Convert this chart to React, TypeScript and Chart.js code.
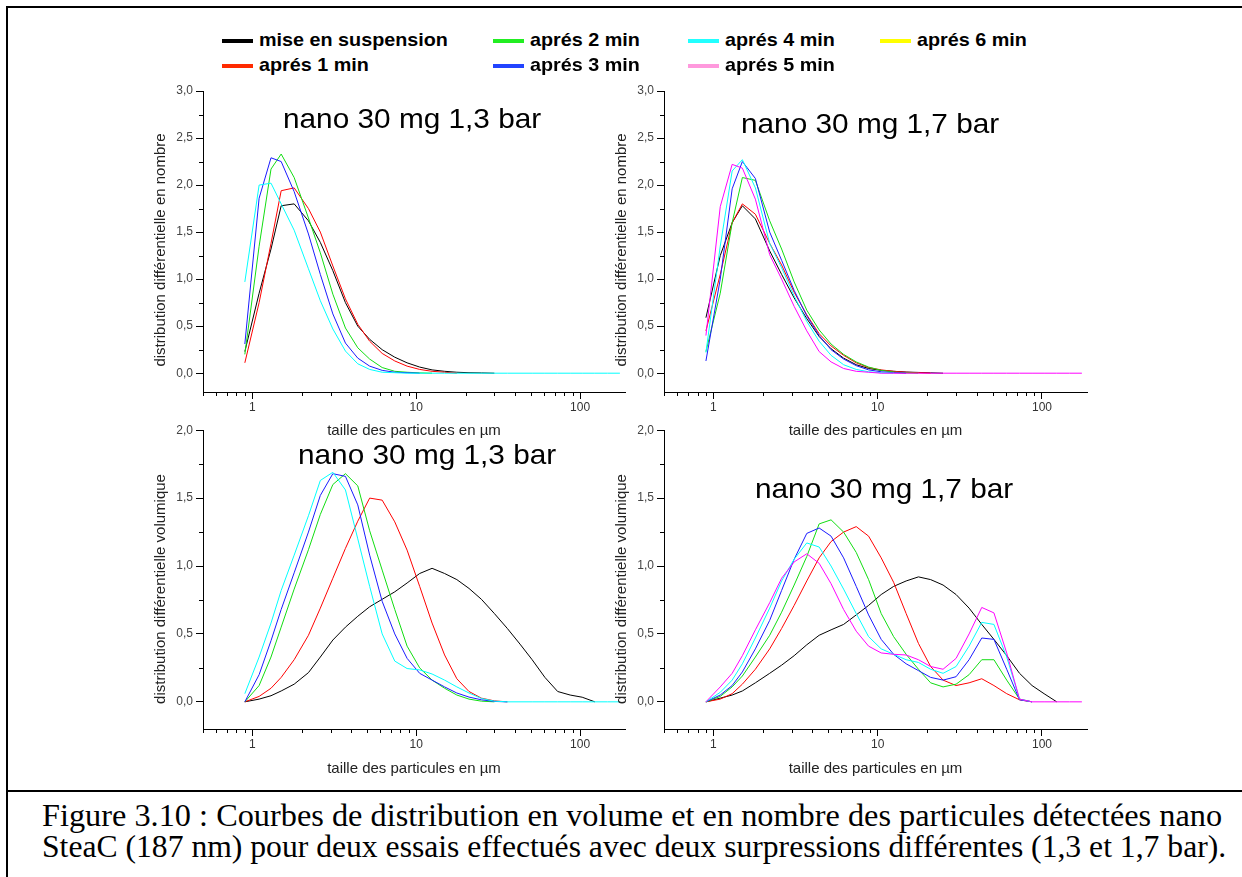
import React, { useEffect, useLayoutEffect, useRef, useState } from "react";
import { Chart, registerables } from "chart.js";

Chart.register(...registerables);

// ---------------- DATA ----------------
const SIZES_UM = [0.9, 1.1, 1.3, 1.5, 1.8, 2.2, 2.6, 3.1, 3.7, 4.4, 5.2, 6.2, 7.4, 8.8, 10.5, 12.5, 14.9, 17.7, 21, 25, 30, 36, 43, 51, 61, 73, 87, 103, 123, 147, 175];

const SERIES_LABELS = ["mise en suspension", "aprés 1 min", "aprés 2 min", "aprés 3 min", "aprés 4 min", "aprés 5 min", "aprés 6 min"];
const CURVE_COLORS = ["#000000", "#ff0000", "#11dd11", "#1a1aff", "#00ffff", "#ff00ff", "#ffff00"];
const LEGEND_COLORS = ["#000000", "#ff2a00", "#22ee22", "#2244ff", "#22ffff", "#ff99dd", "#ffff00"];

const X_TICKS = [1, 10, 100];
const X_MINOR = [0.5, 0.6, 0.7, 0.8, 0.9, 2, 3, 4, 5, 6, 7, 8, 9, 20, 30, 40, 50, 60, 70, 80, 90];
const Y_TICKS_NOMBRE = [0, 0.5, 1, 1.5, 2, 2.5, 3];
const Y_MINOR_NOMBRE = [0.25, 0.75, 1.25, 1.75, 2.25, 2.75];
const Y_TICKS_VOLUME = [0, 0.5, 1, 1.5, 2];
const Y_MINOR_VOLUME = [0.25, 0.75, 1.25, 1.75];

// number distribution, 1,3 bar
const N13_SUSPENSION = [0.23, 0.85, 1.32, 1.78, 1.8, 1.62, 1.39, 1.09, 0.75, 0.5, 0.36, 0.25, 0.17, 0.11, 0.065, 0.035, 0.02, 0.01, 0.005, 0.003, 0];
const N13_1MIN = [0.11, 0.75, 1.38, 1.94, 1.97, 1.75, 1.5, 1.14, 0.79, 0.52, 0.34, 0.21, 0.13, 0.075, 0.04, 0.02, 0.01, 0];
const N13_2MIN = [0.2, 1.35, 2.17, 2.33, 2.08, 1.65, 1.28, 0.84, 0.48, 0.27, 0.15, 0.06, 0.02, 0.01, 0.003, 0];
const N13_3MIN = [0.31, 1.86, 2.29, 2.25, 1.93, 1.48, 1.05, 0.63, 0.32, 0.16, 0.075, 0.03, 0.01, 0.005, 0];
const N13_4MIN = [0.97, 2.0, 2.02, 1.8, 1.52, 1.11, 0.77, 0.47, 0.235, 0.1, 0.04, 0.01, 0.005, 0, 0, 0, 0, 0, 0, 0, 0, 0, 0, 0, 0, 0, 0, 0, 0, 0, 0];

// number distribution, 1,7 bar
const N17_SUSPENSION = [0.59, 1.25, 1.6, 1.78, 1.64, 1.3, 1.05, 0.8, 0.58, 0.39, 0.26, 0.16, 0.09, 0.05, 0.03, 0.02, 0.012, 0.008, 0.004, 0];
const N17_1MIN = [0.45, 1.05, 1.6, 1.8, 1.69, 1.38, 1.15, 0.86, 0.62, 0.42, 0.29, 0.19, 0.11, 0.06, 0.035, 0.02, 0.01, 0.005, 0];
const N17_2MIN = [0.23, 0.85, 1.6, 2.08, 2.05, 1.62, 1.32, 0.97, 0.67, 0.46, 0.31, 0.2, 0.12, 0.065, 0.03, 0.012, 0.004, 0];
const N17_3MIN = [0.13, 1.0, 1.96, 2.25, 2.07, 1.5, 1.2, 0.88, 0.61, 0.4, 0.25, 0.15, 0.08, 0.035, 0.015, 0.005, 0];
const N17_4MIN = [0.22, 1.35, 2.15, 2.27, 1.97, 1.38, 1.12, 0.82, 0.55, 0.34, 0.19, 0.09, 0.04, 0.015, 0.005, 0];
const N17_5MIN = [0.4, 1.77, 2.22, 2.18, 1.85, 1.26, 1.0, 0.71, 0.45, 0.23, 0.12, 0.05, 0.02, 0.01, 0, 0, 0, 0, 0, 0, 0, 0, 0, 0, 0, 0, 0, 0, 0, 0, 0];

// volume distribution, 1,3 bar
const V13_SUSPENSION = [0, 0.02, 0.045, 0.08, 0.13, 0.215, 0.33, 0.455, 0.55, 0.63, 0.7, 0.755, 0.81, 0.875, 0.945, 0.983, 0.945, 0.9, 0.835, 0.755, 0.65, 0.54, 0.425, 0.31, 0.18, 0.076, 0.05, 0.034, 0];
const V13_1MIN = [0, 0.04, 0.1, 0.18, 0.31, 0.49, 0.69, 0.91, 1.13, 1.33, 1.5, 1.485, 1.325, 1.117, 0.85, 0.58, 0.345, 0.17, 0.076, 0.027, 0.007, 0];
const V13_2MIN = [0, 0.12, 0.33, 0.55, 0.83, 1.12, 1.38, 1.6, 1.68, 1.59, 1.26, 0.97, 0.68, 0.41, 0.25, 0.16, 0.1, 0.05, 0.02, 0.005, 0];
const V13_3MIN = [0, 0.2, 0.45, 0.68, 0.95, 1.25, 1.52, 1.68, 1.66, 1.45, 1.08, 0.74, 0.5, 0.32, 0.21, 0.16, 0.11, 0.065, 0.035, 0.015, 0.003, 0];
const V13_4MIN = [0.06, 0.33, 0.58, 0.82, 1.08, 1.37, 1.63, 1.69, 1.56, 1.2, 0.85, 0.5, 0.3, 0.245, 0.235, 0.205, 0.16, 0.11, 0.065, 0.025, 0.005, 0, 0, 0, 0, 0, 0, 0, 0, 0, 0];

// volume distribution, 1,7 bar
const V17_SUSPENSION = [0, 0.027, 0.05, 0.08, 0.14, 0.21, 0.27, 0.34, 0.42, 0.49, 0.53, 0.57, 0.64, 0.71, 0.79, 0.85, 0.89, 0.92, 0.9, 0.86, 0.79, 0.69, 0.57, 0.46, 0.34, 0.21, 0.12, 0.06, 0];
const V17_1MIN = [0, 0.02, 0.06, 0.13, 0.24, 0.39, 0.54, 0.71, 0.89, 1.06, 1.18, 1.25, 1.29, 1.22, 1.06, 0.88, 0.65, 0.43, 0.26, 0.16, 0.12, 0.14, 0.17, 0.12, 0.06, 0.015, 0];
const V17_2MIN = [0, 0.04, 0.11, 0.19, 0.33, 0.49, 0.66, 0.86, 1.07, 1.31, 1.34, 1.25, 1.1, 0.9, 0.65, 0.48, 0.35, 0.24, 0.14, 0.11, 0.13, 0.2, 0.31, 0.31, 0.16, 0.02, 0];
const V17_3MIN = [0, 0.05, 0.12, 0.22, 0.39, 0.6, 0.82, 1.05, 1.24, 1.28, 1.22, 1.06, 0.85, 0.64, 0.46, 0.35, 0.28, 0.23, 0.18, 0.16, 0.185, 0.31, 0.47, 0.46, 0.24, 0.015, 0];
const V17_4MIN = [0, 0.07, 0.16, 0.28, 0.47, 0.69, 0.89, 1.05, 1.17, 1.14, 1.0, 0.83, 0.65, 0.48, 0.39, 0.35, 0.31, 0.29, 0.24, 0.21, 0.26, 0.41, 0.585, 0.57, 0.33, 0.02, 0];
const V17_5MIN = [0, 0.11, 0.21, 0.34, 0.53, 0.73, 0.91, 1.03, 1.09, 1.02, 0.87, 0.68, 0.52, 0.41, 0.36, 0.35, 0.345, 0.31, 0.26, 0.24, 0.32, 0.5, 0.695, 0.655, 0.36, 0.02, 0, 0, 0, 0, 0];

const TITLE_NOMBRE = "distribution différentielle en nombre";
const TITLE_VOLUME = "distribution différentielle volumique";
const TITLE_X = "taille des particules en µm";
const CAPTION_1 = "Figure 3.10 : Courbes de distribution en volume et en nombre des particules détectées nano";
const CAPTION_2 = "SteaC (187 nm) pour deux essais effectués avec deux surpressions différentes (1,3 et 1,7 bar).";

// ---------------- LAYOUT ----------------
const FONT = "'Liberation Sans', Arial, Helvetica, sans-serif";
const SERIF = "'Liberation Serif', 'Times New Roman', Tinos, Times, serif";

type PanelDef = {
  left: number; top: number; yWidth: number; padTop: number; padRight: number; xHeight: number; xTitlePad: number;
  yMax: number; yTicks: number[]; yMinor: number[]; series: { idx: number; values: number[] }[];
  label: string; labelCx: number; labelBase: number; yTitle: string; yTitleCx: number; yTitleCy: number;
};

const PANELS: PanelDef[] = [
  {
    left: 140, top: 80, yWidth: 63, padTop: 11, padRight: 15, xHeight: 48, xTitlePad: 0,
    yMax: 3, yTicks: Y_TICKS_NOMBRE, yMinor: Y_MINOR_NOMBRE,
    series: [
      { idx: 0, values: N13_SUSPENSION }, { idx: 1, values: N13_1MIN }, { idx: 2, values: N13_2MIN },
      { idx: 3, values: N13_3MIN }, { idx: 4, values: N13_4MIN },
    ],
    label: "nano 30 mg 1,3 bar", labelCx: 412, labelBase: 128.5, yTitle: TITLE_NOMBRE, yTitleCx: 158.7, yTitleCy: 250,
  },
  {
    left: 600, top: 80, yWidth: 64, padTop: 11, padRight: 13, xHeight: 48, xTitlePad: 0,
    yMax: 3, yTicks: Y_TICKS_NOMBRE, yMinor: Y_MINOR_NOMBRE,
    series: [
      { idx: 0, values: N17_SUSPENSION }, { idx: 1, values: N17_1MIN }, { idx: 2, values: N17_2MIN },
      { idx: 3, values: N17_3MIN }, { idx: 4, values: N17_4MIN }, { idx: 5, values: N17_5MIN },
    ],
    label: "nano 30 mg 1,7 bar", labelCx: 869.5, labelBase: 133.5, yTitle: TITLE_NOMBRE, yTitleCx: 620, yTitleCy: 250,
  },
  {
    left: 140, top: 420, yWidth: 63, padTop: 10, padRight: 15, xHeight: 51, xTitlePad: 2,
    yMax: 2, yTicks: Y_TICKS_VOLUME, yMinor: Y_MINOR_VOLUME,
    series: [
      { idx: 0, values: V13_SUSPENSION }, { idx: 1, values: V13_1MIN }, { idx: 2, values: V13_2MIN },
      { idx: 3, values: V13_3MIN }, { idx: 4, values: V13_4MIN },
    ],
    label: "nano 30 mg 1,3 bar", labelCx: 426.5, labelBase: 464, yTitle: TITLE_VOLUME, yTitleCx: 158.7, yTitleCy: 589,
  },
  {
    left: 600, top: 420, yWidth: 64, padTop: 10, padRight: 13, xHeight: 51, xTitlePad: 2,
    yMax: 2, yTicks: Y_TICKS_VOLUME, yMinor: Y_MINOR_VOLUME,
    series: [
      { idx: 0, values: V17_SUSPENSION }, { idx: 1, values: V17_1MIN }, { idx: 2, values: V17_2MIN },
      { idx: 3, values: V17_3MIN }, { idx: 4, values: V17_4MIN }, { idx: 5, values: V17_5MIN },
    ],
    label: "nano 30 mg 1,7 bar", labelCx: 884, labelBase: 498.5, yTitle: TITLE_VOLUME, yTitleCx: 620, yTitleCy: 589,
  },
];

const CANVAS_W = 500;
const CANVAS_H = 360;

const minorTicksPlugin = {
  id: "minorTicks",
  afterDraw(chart: any, _args: any, opts: any) {
    const { ctx } = chart;
    const xs = chart.scales.x;
    const ys = chart.scales.y;
    ctx.save();
    ctx.strokeStyle = "#000";
    ctx.lineWidth = 1;
    ctx.beginPath();
    for (const v of opts.xMinor || []) {
      if (v < xs.min || v > xs.max) continue;
      const px = Math.round(xs.getPixelForValue(v)) + 0.5;
      ctx.moveTo(px, xs.top);
      ctx.lineTo(px, xs.top + 4);
    }
    for (const v of opts.yMinor || []) {
      const py = Math.round(ys.getPixelForValue(v)) + 0.5;
      ctx.moveTo(ys.right - 4, py);
      ctx.lineTo(ys.right, py);
    }
    ctx.stroke();
    ctx.restore();
  },
};

function PanelChart({ p }: { p: PanelDef }) {
  const ref = useRef<HTMLCanvasElement>(null);
  useEffect(() => {
    const datasets = p.series.map((s) => ({
      label: SERIES_LABELS[s.idx],
      data: s.values.map((y, i) => ({ x: SIZES_UM[i], y })),
      borderColor: CURVE_COLORS[s.idx],
      borderWidth: 1,
      pointRadius: 0,
      fill: false,
      tension: 0,
      order: -s.idx,
    }));
    const axisGrid = { display: true, drawOnChartArea: false, drawTicks: true, tickLength: 7, color: "#000", tickWidth: 1 };
    const chart = new Chart(ref.current as HTMLCanvasElement, {
      type: "line",
      data: { datasets },
      plugins: [minorTicksPlugin],
      options: {
        animation: false,
        responsive: false,
        devicePixelRatio: 1,
        events: [],
        layout: { padding: { left: 0, top: p.padTop, right: p.padRight, bottom: 0 } },
        plugins: {
          legend: { display: false },
          tooltip: { enabled: false },
          minorTicks: { xMinor: X_MINOR, yMinor: p.yMinor },
        } as any,
        scales: {
          x: {
            type: "logarithmic",
            min: 0.5,
            max: 188,
            bounds: "data",
            afterBuildTicks: (s: any) => { s.ticks = X_TICKS.map((v) => ({ value: v })); },
            afterFit: (s: any) => { s.height = p.xHeight; },
            ticks: { autoSkip: false, maxRotation: 0, padding: 1, color: "#333", font: { family: FONT, size: 12 }, callback: (v: any) => String(v) },
            grid: axisGrid,
            border: { display: true, color: "#000", width: 1 },
            title: { display: true, text: TITLE_X, color: "#222", font: { family: FONT, size: 15 }, padding: { top: 0, bottom: p.xTitlePad } },
          },
          y: {
            type: "linear",
            min: -0.2,
            max: p.yMax,
            afterBuildTicks: (s: any) => { s.ticks = p.yTicks.map((v) => ({ value: v })); },
            afterFit: (s: any) => { s.width = p.yWidth; },
            ticks: { autoSkip: false, padding: 3, color: "#444", font: { family: FONT, size: 12 }, callback: (v: any) => Number(v).toFixed(1).replace(".", ",") },
            grid: axisGrid,
            border: { display: true, color: "#000", width: 1 },
          },
        },
      } as any,
    });
    return () => chart.destroy();
  }, [p]);
  return (
    <canvas
      ref={ref}
      width={CANVAS_W}
      height={CANVAS_H}
      style={{ position: "absolute", left: p.left, top: p.top, width: CANVAS_W, height: CANVAS_H }}
    />
  );
}

function FitText({ text, width, style }: { text: string; width: number; style: React.CSSProperties }) {
  const ref = useRef<HTMLSpanElement>(null);
  const [scale, setScale] = useState(1);
  useLayoutEffect(() => {
    if (ref.current) {
      const w = ref.current.offsetWidth;
      if (w > 0) setScale(width / w);
    }
  }, [text, width]);
  return (
    <span
      ref={ref}
      style={{ ...style, display: "inline-block", whiteSpace: "nowrap", transform: `scaleX(${scale})`, transformOrigin: "left top" }}
    >
      {text}
    </span>
  );
}

const LEGEND_COL_X = [222, 493, 688, 880];
const LEGEND_ROW_Y = [40.5, 66];

export default function App() {
  return (
    <div style={{ position: "fixed", left: 0, top: 0, width: 1242, height: 877, background: "#fff", overflow: "hidden" }}>
      {/* frame */}
      <div style={{ position: "absolute", left: 6, top: 6, width: 2, height: 871, background: "#000" }} />
      <div style={{ position: "absolute", left: 6, top: 6, width: 1236, height: 2, background: "#000" }} />
      <div style={{ position: "absolute", left: 6, top: 790, width: 1236, height: 2, background: "#000" }} />

      {PANELS.map((p, i) => (
        <PanelChart key={i} p={p} />
      ))}

      {PANELS.map((p, i) => (
        <div
          key={"yt" + i}
          style={{
            position: "absolute", left: p.yTitleCx, top: p.yTitleCy, transform: "translate(-50%, -50%) rotate(-90deg)",
            whiteSpace: "nowrap", fontFamily: FONT, fontSize: 15, lineHeight: "15px", color: "#222",
          }}
        >
          {p.yTitle}
        </div>
      ))}

      {PANELS.map((p, i) => (
        <div key={"lbl" + i} style={{ position: "absolute", left: p.labelCx - 129, top: p.labelBase - 0.8465 * 28.5, width: 258 }}>
          <FitText text={p.label} width={258} style={{ fontFamily: FONT, fontSize: 28.5, lineHeight: "28.5px", color: "#000" }} />
        </div>
      ))}

      {SERIES_LABELS.map((lab, i) => {
        const col = Math.floor(i / 2);
        const row = i % 2;
        const x = LEGEND_COL_X[col];
        const y = LEGEND_ROW_Y[row];
        return (
          <React.Fragment key={"lg" + i}>
            <div style={{ position: "absolute", left: x, top: y - 2, width: 31, height: 4, background: LEGEND_COLORS[i] }} />
            <div
              style={{
                position: "absolute", left: x + 37, top: y + 5.5 - 0.8465 * 19, whiteSpace: "nowrap", fontFamily: FONT, fontWeight: "bold",
                fontSize: 19, lineHeight: "19px", color: "#000", transform: "scaleX(1.04)", transformOrigin: "left top",
              }}
            >
              {lab}
            </div>
          </React.Fragment>
        );
      })}

      <div style={{ position: "absolute", left: 42, top: 826 - 0.8375 * 31 }}>
        <FitText text={CAPTION_1} width={1180} style={{ fontFamily: SERIF, fontSize: 31, lineHeight: "31px", color: "#000" }} />
      </div>
      <div style={{ position: "absolute", left: 42, top: 857 - 0.8375 * 31 }}>
        <FitText text={CAPTION_2} width={1184} style={{ fontFamily: SERIF, fontSize: 31, lineHeight: "31px", color: "#000" }} />
      </div>
    </div>
  );
}
